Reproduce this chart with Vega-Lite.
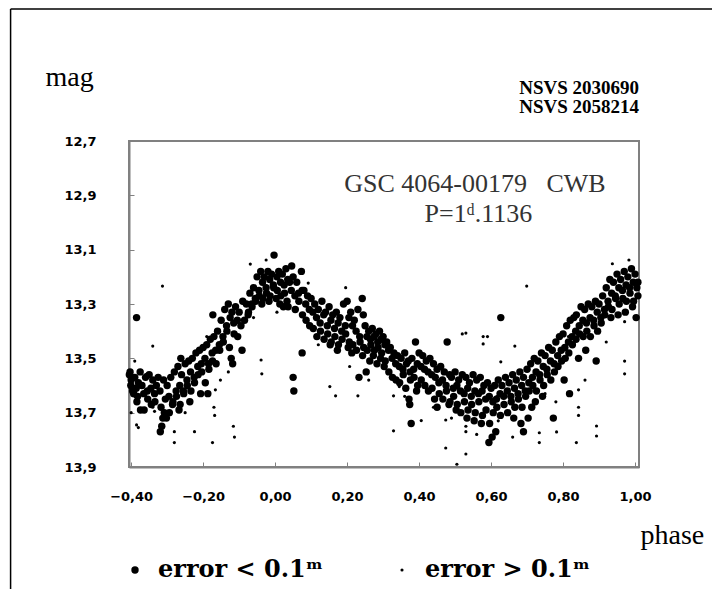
{
"$schema": "https://vega.github.io/schema/vega-lite/v6.json",
"width": 510, "height": 326,
"autosize": {"type": "none"},
"padding": {"left": 129, "top": 141, "right": 73, "bottom": 122},
"background": "white",
"config": {"view": {"stroke": "#808080", "strokeWidth": 2}, "font": "Liberation Serif"},
"datasets": {"pts": [
{"phase":-0.405,"mag":13.56,"err":"lt"},{"phase":-0.401,"mag":13.60,"err":"lt"},
{"phase":-0.40,"mag":13.58,"err":"lt"},{"phase":-0.396,"mag":13.62,"err":"lt"},{"phase":-0.403,"mag":13.55,"err":"lt"},
{"phase":-0.393,"mag":13.63,"err":"lt"},
{"phase":-0.39,"mag":13.57,"err":"lt"},{"phase":-0.386,"mag":13.61,"err":"lt"},
{"phase":-0.385,"mag":13.35,"err":"lt"},{"phase":-0.382,"mag":13.64,"err":"lt"},
{"phase":-0.38,"mag":13.59,"err":"lt"},{"phase":-0.375,"mag":13.55,"err":"lt"},{"phase":-0.384,"mag":13.66,"err":"lt"},
{"phase":-0.37,"mag":13.60,"err":"lt"},{"phase":-0.365,"mag":13.63,"err":"lt"},{"phase":-0.374,"mag":13.69,"err":"lt"},
{"phase":-0.36,"mag":13.57,"err":"lt"},{"phase":-0.355,"mag":13.62,"err":"lt"},{"phase":-0.364,"mag":13.69,"err":"lt"},
{"phase":-0.35,"mag":13.56,"err":"lt"},{"phase":-0.345,"mag":13.61,"err":"lt"},{"phase":-0.354,"mag":13.65,"err":"lt"},
{"phase":-0.34,"mag":13.58,"err":"lt"},{"phase":-0.335,"mag":13.63,"err":"lt"},{"phase":-0.344,"mag":13.67,"err":"lt"},
{"phase":-0.33,"mag":13.60,"err":"lt"},{"phase":-0.325,"mag":13.57,"err":"lt"},{"phase":-0.334,"mag":13.66,"err":"lt"},
{"phase":-0.32,"mag":13.62,"err":"lt"},{"phase":-0.317,"mag":13.68,"err":"lt"},{"phase":-0.319,"mag":13.77,"err":"lt"},
{"phase":-0.315,"mag":13.75,"err":"lt"},{"phase":-0.312,"mag":13.72,"err":"lt"},
{"phase":-0.31,"mag":13.58,"err":"lt"},{"phase":-0.305,"mag":13.65,"err":"lt"},{"phase":-0.308,"mag":13.70,"err":"lt"},
{"phase":-0.30,"mag":13.60,"err":"lt"},{"phase":-0.295,"mag":13.64,"err":"lt"},{"phase":-0.302,"mag":13.72,"err":"lt"},
{"phase":-0.29,"mag":13.57,"err":"lt"},{"phase":-0.285,"mag":13.67,"err":"lt"},{"phase":-0.294,"mag":13.70,"err":"lt"},
{"phase":-0.28,"mag":13.55,"err":"lt"},{"phase":-0.275,"mag":13.62,"err":"lt"},{"phase":-0.284,"mag":13.66,"err":"lt"},
{"phase":-0.27,"mag":13.53,"err":"lt"},{"phase":-0.265,"mag":13.60,"err":"lt"},{"phase":-0.274,"mag":13.64,"err":"lt"},{"phase":-0.267,"mag":13.69,"err":"lt"},
{"phase":-0.262,"mag":13.50,"err":"lt"},
{"phase":-0.26,"mag":13.56,"err":"lt"},{"phase":-0.255,"mag":13.62,"err":"lt"},{"phase":-0.264,"mag":13.67,"err":"lt"},
{"phase":-0.25,"mag":13.52,"err":"lt"},{"phase":-0.245,"mag":13.58,"err":"lt"},{"phase":-0.254,"mag":13.63,"err":"lt"},
{"phase":-0.24,"mag":13.51,"err":"lt"},{"phase":-0.235,"mag":13.55,"err":"lt"},{"phase":-0.244,"mag":13.60,"err":"lt"},{"phase":-0.237,"mag":13.66,"err":"lt"},
{"phase":-0.23,"mag":13.50,"err":"lt"},{"phase":-0.225,"mag":13.57,"err":"lt"},{"phase":-0.234,"mag":13.62,"err":"lt"},
{"phase":-0.22,"mag":13.48,"err":"lt"},{"phase":-0.215,"mag":13.53,"err":"lt"},{"phase":-0.224,"mag":13.59,"err":"lt"},
{"phase":-0.21,"mag":13.47,"err":"lt"},{"phase":-0.205,"mag":13.52,"err":"lt"},{"phase":-0.214,"mag":13.56,"err":"lt"},{"phase":-0.207,"mag":13.63,"err":"lt"},
{"phase":-0.20,"mag":13.46,"err":"lt"},{"phase":-0.195,"mag":13.50,"err":"lt"},{"phase":-0.204,"mag":13.55,"err":"lt"},
{"phase":-0.19,"mag":13.45,"err":"lt"},{"phase":-0.185,"mag":13.52,"err":"lt"},{"phase":-0.194,"mag":13.59,"err":"lt"},{"phase":-0.187,"mag":13.63,"err":"lt"},
{"phase":-0.18,"mag":13.43,"err":"lt"},{"phase":-0.175,"mag":13.48,"err":"lt"},{"phase":-0.184,"mag":13.54,"err":"lt"},
{"phase":-0.173,"mag":13.34,"err":"lt"},
{"phase":-0.17,"mag":13.42,"err":"lt"},{"phase":-0.165,"mag":13.47,"err":"lt"},{"phase":-0.174,"mag":13.51,"err":"lt"},
{"phase":-0.16,"mag":13.40,"err":"lt"},{"phase":-0.155,"mag":13.45,"err":"lt"},{"phase":-0.164,"mag":13.52,"err":"lt"},
{"phase":-0.15,"mag":13.36,"err":"lt"},{"phase":-0.145,"mag":13.42,"err":"lt"},{"phase":-0.154,"mag":13.47,"err":"lt"},
{"phase":-0.14,"mag":13.32,"err":"lt"},{"phase":-0.135,"mag":13.38,"err":"lt"},{"phase":-0.144,"mag":13.44,"err":"lt"},
{"phase":-0.13,"mag":13.30,"err":"lt"},{"phase":-0.125,"mag":13.35,"err":"lt"},{"phase":-0.134,"mag":13.40,"err":"lt"},{"phase":-0.127,"mag":13.46,"err":"lt"},
{"phase":-0.12,"mag":13.33,"err":"lt"},{"phase":-0.115,"mag":13.37,"err":"lt"},{"phase":-0.122,"mag":13.50,"err":"lt"},{"phase":-0.118,"mag":13.52,"err":"lt"},
{"phase":-0.11,"mag":13.31,"err":"lt"},{"phase":-0.105,"mag":13.36,"err":"lt"},{"phase":-0.114,"mag":13.41,"err":"lt"},
{"phase":-0.10,"mag":13.33,"err":"lt"},{"phase":-0.095,"mag":13.38,"err":"lt"},{"phase":-0.104,"mag":13.42,"err":"lt"},
{"phase":-0.09,"mag":13.29,"err":"lt"},{"phase":-0.085,"mag":13.36,"err":"lt"},{"phase":-0.092,"mag":13.47,"err":"lt"},
{"phase":-0.08,"mag":13.30,"err":"lt"},{"phase":-0.075,"mag":13.34,"err":"lt"},
{"phase":-0.07,"mag":13.26,"err":"lt"},{"phase":-0.065,"mag":13.30,"err":"lt"},{"phase":-0.074,"mag":13.33,"err":"lt"},
{"phase":-0.06,"mag":13.24,"err":"lt"},{"phase":-0.055,"mag":13.28,"err":"lt"},{"phase":-0.064,"mag":13.31,"err":"lt"},
{"phase":-0.05,"mag":13.20,"err":"lt"},{"phase":-0.045,"mag":13.25,"err":"lt"},{"phase":-0.054,"mag":13.29,"err":"lt"},
{"phase":-0.04,"mag":13.18,"err":"lt"},{"phase":-0.035,"mag":13.22,"err":"lt"},{"phase":-0.044,"mag":13.27,"err":"lt"},{"phase":-0.037,"mag":13.30,"err":"lt"},
{"phase":-0.03,"mag":13.20,"err":"lt"},{"phase":-0.025,"mag":13.24,"err":"lt"},{"phase":-0.034,"mag":13.28,"err":"lt"},
{"phase":-0.02,"mag":13.18,"err":"lt"},{"phase":-0.015,"mag":13.21,"err":"lt"},{"phase":-0.024,"mag":13.26,"err":"lt"},{"phase":-0.017,"mag":13.29,"err":"lt"},
{"phase":-0.01,"mag":13.19,"err":"lt"},{"phase":-0.005,"mag":13.23,"err":"lt"},{"phase":-0.014,"mag":13.27,"err":"lt"},
{"phase":-0.003,"mag":13.12,"err":"lt"},{"phase":0.005,"mag":13.20,"err":"lt"},{"phase":-0.004,"mag":13.24,"err":"lt"},{"phase":0.003,"mag":13.28,"err":"lt"},
{"phase":0.01,"mag":13.18,"err":"lt"},{"phase":0.015,"mag":13.22,"err":"lt"},{"phase":0.006,"mag":13.25,"err":"lt"},{"phase":0.013,"mag":13.30,"err":"lt"},
{"phase":0.02,"mag":13.19,"err":"lt"},{"phase":0.025,"mag":13.23,"err":"lt"},{"phase":0.016,"mag":13.27,"err":"lt"},{"phase":0.023,"mag":13.31,"err":"lt"},
{"phase":0.03,"mag":13.17,"err":"lt"},{"phase":0.035,"mag":13.21,"err":"lt"},{"phase":0.026,"mag":13.26,"err":"lt"},{"phase":0.033,"mag":13.29,"err":"lt"},
{"phase":0.04,"mag":13.22,"err":"lt"},{"phase":0.045,"mag":13.25,"err":"lt"},{"phase":0.036,"mag":13.31,"err":"lt"},
{"phase":0.046,"mag":13.16,"err":"lt"},
{"phase":0.05,"mag":13.20,"err":"lt"},{"phase":0.055,"mag":13.27,"err":"lt"},{"phase":0.05,"mag":13.57,"err":"lt"},{"phase":0.052,"mag":13.62,"err":"lt"},
{"phase":0.06,"mag":13.22,"err":"lt"},{"phase":0.065,"mag":13.26,"err":"lt"},{"phase":0.056,"mag":13.32,"err":"lt"},
{"phase":0.073,"mag":13.18,"err":"lt"},{"phase":0.075,"mag":13.25,"err":"lt"},{"phase":0.066,"mag":13.29,"err":"lt"},{"phase":0.075,"mag":13.48,"err":"lt"},
{"phase":0.08,"mag":13.25,"err":"lt"},{"phase":0.085,"mag":13.30,"err":"lt"},{"phase":0.076,"mag":13.34,"err":"lt"},
{"phase":0.09,"mag":13.27,"err":"lt"},{"phase":0.095,"mag":13.32,"err":"lt"},{"phase":0.086,"mag":13.36,"err":"lt"},
{"phase":0.10,"mag":13.28,"err":"lt"},{"phase":0.105,"mag":13.33,"err":"lt"},{"phase":0.096,"mag":13.38,"err":"lt"},
{"phase":0.11,"mag":13.30,"err":"lt"},{"phase":0.115,"mag":13.35,"err":"lt"},{"phase":0.106,"mag":13.39,"err":"lt"},
{"phase":0.12,"mag":13.32,"err":"lt"},{"phase":0.125,"mag":13.37,"err":"lt"},{"phase":0.116,"mag":13.42,"err":"lt"},
{"phase":0.13,"mag":13.29,"err":"lt"},{"phase":0.135,"mag":13.34,"err":"lt"},{"phase":0.126,"mag":13.40,"err":"lt"},
{"phase":0.14,"mag":13.33,"err":"lt"},{"phase":0.145,"mag":13.38,"err":"lt"},{"phase":0.136,"mag":13.43,"err":"lt"},
{"phase":0.15,"mag":13.31,"err":"lt"},{"phase":0.155,"mag":13.36,"err":"lt"},{"phase":0.146,"mag":13.41,"err":"lt"},{"phase":0.153,"mag":13.45,"err":"lt"},
{"phase":0.16,"mag":13.34,"err":"lt"},{"phase":0.165,"mag":13.39,"err":"lt"},{"phase":0.156,"mag":13.44,"err":"lt"},
{"phase":0.17,"mag":13.33,"err":"lt"},{"phase":0.175,"mag":13.37,"err":"lt"},{"phase":0.166,"mag":13.42,"err":"lt"},{"phase":0.173,"mag":13.47,"err":"lt"},
{"phase":0.18,"mag":13.35,"err":"lt"},{"phase":0.185,"mag":13.40,"err":"lt"},{"phase":0.176,"mag":13.45,"err":"lt"},
{"phase":0.19,"mag":13.30,"err":"lt"},{"phase":0.195,"mag":13.38,"err":"lt"},{"phase":0.186,"mag":13.43,"err":"lt"},
{"phase":0.20,"mag":13.29,"err":"lt"},{"phase":0.205,"mag":13.35,"err":"lt"},{"phase":0.196,"mag":13.41,"err":"lt"},{"phase":0.203,"mag":13.46,"err":"lt"},
{"phase":0.21,"mag":13.33,"err":"lt"},{"phase":0.215,"mag":13.38,"err":"lt"},{"phase":0.206,"mag":13.44,"err":"lt"},{"phase":0.213,"mag":13.48,"err":"lt"},
{"phase":0.22,"mag":13.36,"err":"lt"},{"phase":0.225,"mag":13.40,"err":"lt"},{"phase":0.216,"mag":13.45,"err":"lt"},
{"phase":0.23,"mag":13.32,"err":"lt"},{"phase":0.235,"mag":13.42,"err":"lt"},{"phase":0.226,"mag":13.47,"err":"lt"},{"phase":0.233,"mag":13.57,"err":"lt"},
{"phase":0.242,"mag":13.28,"err":"lt"},{"phase":0.245,"mag":13.34,"err":"lt"},{"phase":0.236,"mag":13.44,"err":"lt"},{"phase":0.243,"mag":13.49,"err":"lt"},
{"phase":0.25,"mag":13.38,"err":"lt"},{"phase":0.255,"mag":13.42,"err":"lt"},{"phase":0.246,"mag":13.46,"err":"lt"},{"phase":0.253,"mag":13.55,"err":"lt"},
{"phase":0.26,"mag":13.40,"err":"lt"},{"phase":0.265,"mag":13.43,"err":"lt"},{"phase":0.256,"mag":13.47,"err":"lt"},{"phase":0.263,"mag":13.51,"err":"lt"},
{"phase":0.27,"mag":13.39,"err":"lt"},{"phase":0.275,"mag":13.42,"err":"lt"},{"phase":0.266,"mag":13.45,"err":"lt"},{"phase":0.273,"mag":13.49,"err":"lt"},
{"phase":0.28,"mag":13.41,"err":"lt"},{"phase":0.285,"mag":13.44,"err":"lt"},{"phase":0.276,"mag":13.47,"err":"lt"},{"phase":0.283,"mag":13.52,"err":"lt"},
{"phase":0.29,"mag":13.40,"err":"lt"},{"phase":0.295,"mag":13.43,"err":"lt"},{"phase":0.286,"mag":13.46,"err":"lt"},{"phase":0.293,"mag":13.50,"err":"lt"},
{"phase":0.30,"mag":13.42,"err":"lt"},{"phase":0.305,"mag":13.45,"err":"lt"},{"phase":0.296,"mag":13.48,"err":"lt"},{"phase":0.303,"mag":13.53,"err":"lt"},
{"phase":0.31,"mag":13.44,"err":"lt"},{"phase":0.315,"mag":13.47,"err":"lt"},{"phase":0.306,"mag":13.51,"err":"lt"},
{"phase":0.32,"mag":13.46,"err":"lt"},{"phase":0.325,"mag":13.50,"err":"lt"},{"phase":0.316,"mag":13.55,"err":"lt"},
{"phase":0.33,"mag":13.48,"err":"lt"},{"phase":0.335,"mag":13.52,"err":"lt"},{"phase":0.326,"mag":13.57,"err":"lt"},
{"phase":0.34,"mag":13.49,"err":"lt"},{"phase":0.345,"mag":13.53,"err":"lt"},{"phase":0.336,"mag":13.58,"err":"lt"},
{"phase":0.35,"mag":13.50,"err":"lt"},{"phase":0.355,"mag":13.54,"err":"lt"},{"phase":0.346,"mag":13.59,"err":"lt"},
{"phase":0.36,"mag":13.48,"err":"lt"},{"phase":0.365,"mag":13.52,"err":"lt"},{"phase":0.356,"mag":13.56,"err":"lt"},{"phase":0.363,"mag":13.61,"err":"lt"},
{"phase":0.37,"mag":13.51,"err":"lt"},{"phase":0.375,"mag":13.55,"err":"lt"},{"phase":0.372,"mag":13.65,"err":"lt"},{"phase":0.374,"mag":13.67,"err":"lt"},
{"phase":0.38,"mag":13.50,"err":"lt"},{"phase":0.385,"mag":13.54,"err":"lt"},{"phase":0.376,"mag":13.58,"err":"lt"},{"phase":0.378,"mag":13.74,"err":"lt"},
{"phase":0.39,"mag":13.44,"err":"lt"},{"phase":0.395,"mag":13.52,"err":"lt"},{"phase":0.386,"mag":13.57,"err":"lt"},{"phase":0.393,"mag":13.62,"err":"lt"},
{"phase":0.40,"mag":13.48,"err":"lt"},{"phase":0.405,"mag":13.53,"err":"lt"},{"phase":0.396,"mag":13.60,"err":"lt"},
{"phase":0.41,"mag":13.49,"err":"lt"},{"phase":0.415,"mag":13.54,"err":"lt"},{"phase":0.406,"mag":13.58,"err":"lt"},
{"phase":0.42,"mag":13.51,"err":"lt"},{"phase":0.425,"mag":13.55,"err":"lt"},{"phase":0.416,"mag":13.60,"err":"lt"},
{"phase":0.43,"mag":13.50,"err":"lt"},{"phase":0.435,"mag":13.56,"err":"lt"},{"phase":0.426,"mag":13.62,"err":"lt"},
{"phase":0.44,"mag":13.52,"err":"lt"},{"phase":0.445,"mag":13.57,"err":"lt"},{"phase":0.436,"mag":13.61,"err":"lt"},{"phase":0.443,"mag":13.65,"err":"lt"},
{"phase":0.45,"mag":13.54,"err":"lt"},{"phase":0.455,"mag":13.59,"err":"lt"},{"phase":0.45,"mag":13.68,"err":"lt"},
{"phase":0.46,"mag":13.53,"err":"lt"},{"phase":0.465,"mag":13.58,"err":"lt"},{"phase":0.456,"mag":13.63,"err":"lt"},
{"phase":0.47,"mag":13.55,"err":"lt"},{"phase":0.475,"mag":13.60,"err":"lt"},{"phase":0.466,"mag":13.65,"err":"lt"},
{"phase":0.478,"mag":13.44,"err":"lt"},{"phase":0.485,"mag":13.56,"err":"lt"},{"phase":0.476,"mag":13.62,"err":"lt"},{"phase":0.483,"mag":13.67,"err":"lt"},
{"phase":0.49,"mag":13.57,"err":"lt"},{"phase":0.495,"mag":13.61,"err":"lt"},{"phase":0.486,"mag":13.66,"err":"lt"},
{"phase":0.50,"mag":13.55,"err":"lt"},{"phase":0.505,"mag":13.60,"err":"lt"},{"phase":0.496,"mag":13.64,"err":"lt"},{"phase":0.503,"mag":13.69,"err":"lt"},
{"phase":0.51,"mag":13.58,"err":"lt"},{"phase":0.515,"mag":13.62,"err":"lt"},{"phase":0.506,"mag":13.67,"err":"lt"},
{"phase":0.52,"mag":13.56,"err":"lt"},{"phase":0.525,"mag":13.63,"err":"lt"},{"phase":0.516,"mag":13.70,"err":"lt"},
{"phase":0.53,"mag":13.57,"err":"lt"},{"phase":0.535,"mag":13.61,"err":"lt"},{"phase":0.526,"mag":13.66,"err":"lt"},{"phase":0.533,"mag":13.72,"err":"lt"},
{"phase":0.54,"mag":13.59,"err":"lt"},{"phase":0.545,"mag":13.64,"err":"lt"},{"phase":0.536,"mag":13.69,"err":"lt"},
{"phase":0.55,"mag":13.56,"err":"lt"},{"phase":0.555,"mag":13.62,"err":"lt"},{"phase":0.546,"mag":13.67,"err":"lt"},{"phase":0.553,"mag":13.73,"err":"lt"},
{"phase":0.56,"mag":13.58,"err":"lt"},{"phase":0.565,"mag":13.63,"err":"lt"},{"phase":0.556,"mag":13.70,"err":"lt"},
{"phase":0.57,"mag":13.57,"err":"lt"},{"phase":0.575,"mag":13.62,"err":"lt"},{"phase":0.566,"mag":13.66,"err":"lt"},{"phase":0.573,"mag":13.74,"err":"lt"},
{"phase":0.58,"mag":13.60,"err":"lt"},{"phase":0.585,"mag":13.65,"err":"lt"},{"phase":0.576,"mag":13.71,"err":"lt"},
{"phase":0.59,"mag":13.59,"err":"lt"},{"phase":0.595,"mag":13.64,"err":"lt"},{"phase":0.586,"mag":13.69,"err":"lt"},{"phase":0.594,"mag":13.81,"err":"lt"},
{"phase":0.60,"mag":13.61,"err":"lt"},{"phase":0.605,"mag":13.66,"err":"lt"},{"phase":0.596,"mag":13.74,"err":"lt"},{"phase":0.603,"mag":13.79,"err":"lt"},
{"phase":0.61,"mag":13.60,"err":"lt"},{"phase":0.615,"mag":13.65,"err":"lt"},{"phase":0.606,"mag":13.70,"err":"lt"},{"phase":0.613,"mag":13.77,"err":"lt"},
{"phase":0.62,"mag":13.58,"err":"lt"},{"phase":0.625,"mag":13.63,"err":"lt"},{"phase":0.616,"mag":13.68,"err":"lt"},
{"phase":0.627,"mag":13.35,"err":"lt"},
{"phase":0.63,"mag":13.60,"err":"lt"},{"phase":0.635,"mag":13.64,"err":"lt"},{"phase":0.626,"mag":13.71,"err":"lt"},
{"phase":0.64,"mag":13.57,"err":"lt"},{"phase":0.645,"mag":13.62,"err":"lt"},{"phase":0.636,"mag":13.67,"err":"lt"},
{"phase":0.65,"mag":13.59,"err":"lt"},{"phase":0.655,"mag":13.64,"err":"lt"},{"phase":0.646,"mag":13.70,"err":"lt"},
{"phase":0.66,"mag":13.56,"err":"lt"},{"phase":0.665,"mag":13.61,"err":"lt"},{"phase":0.656,"mag":13.66,"err":"lt"},{"phase":0.663,"mag":13.72,"err":"lt"},
{"phase":0.67,"mag":13.58,"err":"lt"},{"phase":0.675,"mag":13.63,"err":"lt"},{"phase":0.666,"mag":13.68,"err":"lt"},
{"phase":0.68,"mag":13.55,"err":"lt"},{"phase":0.685,"mag":13.60,"err":"lt"},{"phase":0.676,"mag":13.65,"err":"lt"},{"phase":0.683,"mag":13.74,"err":"lt"},
{"phase":0.69,"mag":13.57,"err":"lt"},{"phase":0.695,"mag":13.62,"err":"lt"},{"phase":0.686,"mag":13.68,"err":"lt"},{"phase":0.69,"mag":13.77,"err":"lt"},
{"phase":0.70,"mag":13.54,"err":"lt"},{"phase":0.705,"mag":13.59,"err":"lt"},{"phase":0.696,"mag":13.64,"err":"lt"},{"phase":0.703,"mag":13.72,"err":"lt"},
{"phase":0.71,"mag":13.52,"err":"lt"},{"phase":0.715,"mag":13.57,"err":"lt"},{"phase":0.706,"mag":13.62,"err":"lt"},{"phase":0.713,"mag":13.68,"err":"lt"},
{"phase":0.72,"mag":13.50,"err":"lt"},{"phase":0.725,"mag":13.55,"err":"lt"},{"phase":0.716,"mag":13.60,"err":"lt"},{"phase":0.723,"mag":13.66,"err":"lt"},
{"phase":0.73,"mag":13.51,"err":"lt"},{"phase":0.735,"mag":13.56,"err":"lt"},{"phase":0.726,"mag":13.62,"err":"lt"},
{"phase":0.74,"mag":13.48,"err":"lt"},{"phase":0.745,"mag":13.53,"err":"lt"},{"phase":0.736,"mag":13.58,"err":"lt"},{"phase":0.743,"mag":13.64,"err":"lt"},
{"phase":0.75,"mag":13.49,"err":"lt"},{"phase":0.755,"mag":13.54,"err":"lt"},{"phase":0.746,"mag":13.60,"err":"lt"},
{"phase":0.76,"mag":13.46,"err":"lt"},{"phase":0.765,"mag":13.51,"err":"lt"},{"phase":0.756,"mag":13.56,"err":"lt"},
{"phase":0.77,"mag":13.47,"err":"lt"},{"phase":0.775,"mag":13.52,"err":"lt"},{"phase":0.766,"mag":13.58,"err":"lt"},{"phase":0.773,"mag":13.72,"err":"lt"},
{"phase":0.78,"mag":13.44,"err":"lt"},{"phase":0.785,"mag":13.49,"err":"lt"},{"phase":0.776,"mag":13.55,"err":"lt"},
{"phase":0.79,"mag":13.42,"err":"lt"},{"phase":0.795,"mag":13.47,"err":"lt"},{"phase":0.786,"mag":13.53,"err":"lt"},
{"phase":0.80,"mag":13.41,"err":"lt"},{"phase":0.805,"mag":13.46,"err":"lt"},{"phase":0.796,"mag":13.51,"err":"lt"},{"phase":0.803,"mag":13.58,"err":"lt"},
{"phase":0.81,"mag":13.38,"err":"lt"},{"phase":0.815,"mag":13.44,"err":"lt"},{"phase":0.806,"mag":13.50,"err":"lt"},
{"phase":0.82,"mag":13.36,"err":"lt"},{"phase":0.825,"mag":13.42,"err":"lt"},{"phase":0.816,"mag":13.48,"err":"lt"},{"phase":0.818,"mag":13.63,"err":"lt"},
{"phase":0.83,"mag":13.35,"err":"lt"},{"phase":0.835,"mag":13.40,"err":"lt"},{"phase":0.826,"mag":13.45,"err":"lt"},
{"phase":0.837,"mag":13.34,"err":"lt"},{"phase":0.845,"mag":13.38,"err":"lt"},{"phase":0.836,"mag":13.43,"err":"lt"},{"phase":0.843,"mag":13.50,"err":"lt"},
{"phase":0.85,"mag":13.31,"err":"lt"},{"phase":0.855,"mag":13.36,"err":"lt"},{"phase":0.846,"mag":13.41,"err":"lt"},
{"phase":0.86,"mag":13.32,"err":"lt"},{"phase":0.865,"mag":13.37,"err":"lt"},{"phase":0.856,"mag":13.42,"err":"lt"},{"phase":0.863,"mag":13.47,"err":"lt"},
{"phase":0.87,"mag":13.30,"err":"lt"},{"phase":0.875,"mag":13.35,"err":"lt"},{"phase":0.866,"mag":13.40,"err":"lt"},
{"phase":0.88,"mag":13.31,"err":"lt"},{"phase":0.885,"mag":13.36,"err":"lt"},{"phase":0.876,"mag":13.42,"err":"lt"},
{"phase":0.89,"mag":13.29,"err":"lt"},{"phase":0.895,"mag":13.33,"err":"lt"},{"phase":0.886,"mag":13.38,"err":"lt"},{"phase":0.892,"mag":13.51,"err":"lt"},
{"phase":0.90,"mag":13.30,"err":"lt"},{"phase":0.905,"mag":13.35,"err":"lt"},{"phase":0.896,"mag":13.40,"err":"lt"},
{"phase":0.91,"mag":13.27,"err":"lt"},{"phase":0.915,"mag":13.32,"err":"lt"},{"phase":0.906,"mag":13.37,"err":"lt"},
{"phase":0.92,"mag":13.24,"err":"lt"},{"phase":0.925,"mag":13.29,"err":"lt"},{"phase":0.916,"mag":13.34,"err":"lt"},
{"phase":0.93,"mag":13.21,"err":"lt"},{"phase":0.935,"mag":13.26,"err":"lt"},{"phase":0.926,"mag":13.31,"err":"lt"},{"phase":0.933,"mag":13.35,"err":"lt"},
{"phase":0.94,"mag":13.22,"err":"lt"},{"phase":0.945,"mag":13.27,"err":"lt"},{"phase":0.936,"mag":13.32,"err":"lt"},
{"phase":0.95,"mag":13.19,"err":"lt"},{"phase":0.955,"mag":13.24,"err":"lt"},{"phase":0.946,"mag":13.28,"err":"lt"},{"phase":0.953,"mag":13.34,"err":"lt"},
{"phase":0.96,"mag":13.21,"err":"lt"},{"phase":0.965,"mag":13.25,"err":"lt"},{"phase":0.956,"mag":13.30,"err":"lt"},
{"phase":0.97,"mag":13.18,"err":"lt"},{"phase":0.975,"mag":13.23,"err":"lt"},{"phase":0.966,"mag":13.28,"err":"lt"},{"phase":0.973,"mag":13.33,"err":"lt"},
{"phase":0.98,"mag":13.20,"err":"lt"},{"phase":0.985,"mag":13.24,"err":"lt"},{"phase":0.976,"mag":13.29,"err":"lt"},
{"phase":0.99,"mag":13.17,"err":"lt"},{"phase":0.995,"mag":13.22,"err":"lt"},{"phase":0.986,"mag":13.26,"err":"lt"},{"phase":0.993,"mag":13.31,"err":"lt"},
{"phase":1.00,"mag":13.19,"err":"lt"},{"phase":1.005,"mag":13.24,"err":"lt"},{"phase":0.996,"mag":13.29,"err":"lt"},{"phase":1.003,"mag":13.35,"err":"lt"},
{"phase":1.008,"mag":13.22,"err":"lt"},{"phase":1.008,"mag":13.27,"err":"lt"},
{"phase":-0.40,"mag":13.70,"err":"gt"},{"phase":-0.39,"mag":13.64,"err":"gt"},{"phase":-0.39,"mag":13.51,"err":"gt"},{"phase":-0.385,"mag":13.745,"err":"gt"},{"phase":-0.38,"mag":13.755,"err":"gt"},
{"phase":-0.34,"mag":13.455,"err":"gt"},{"phase":-0.34,"mag":13.68,"err":"gt"},{"phase":-0.335,"mag":13.695,"err":"gt"},{"phase":-0.313,"mag":13.234,"err":"gt"},
{"phase":-0.28,"mag":13.77,"err":"gt"},{"phase":-0.28,"mag":13.81,"err":"gt"},{"phase":-0.224,"mag":13.77,"err":"gt"},{"phase":-0.19,"mag":13.42,"err":"gt"},
{"phase":-0.174,"mag":13.81,"err":"gt"},{"phase":-0.17,"mag":13.68,"err":"gt"},{"phase":-0.168,"mag":13.71,"err":"gt"},{"phase":-0.166,"mag":13.616,"err":"gt"},
{"phase":-0.152,"mag":13.58,"err":"gt"},{"phase":-0.116,"mag":13.75,"err":"gt"},{"phase":-0.113,"mag":13.79,"err":"gt"},{"phase":-0.069,"mag":13.153,"err":"gt"},
{"phase":-0.039,"mag":13.506,"err":"gt"},{"phase":-0.037,"mag":13.557,"err":"gt"},{"phase":-0.025,"mag":13.138,"err":"gt"},{"phase":0.092,"mag":13.223,"err":"gt"},
{"phase":0.17,"mag":13.466,"err":"gt"},{"phase":0.196,"mag":13.24,"err":"gt"},{"phase":0.205,"mag":13.29,"err":"gt"},{"phase":0.207,"mag":13.53,"err":"gt"},
{"phase":0.152,"mag":13.604,"err":"gt"},{"phase":0.168,"mag":13.638,"err":"gt"},{"phase":0.23,"mag":13.638,"err":"gt"},{"phase":0.329,"mag":13.638,"err":"gt"},
{"phase":0.329,"mag":13.767,"err":"gt"},{"phase":0.345,"mag":13.604,"err":"gt"},{"phase":0.406,"mag":13.729,"err":"gt"},{"phase":0.474,"mag":13.83,"err":"gt"},
{"phase":0.474,"mag":13.727,"err":"gt"},{"phase":0.49,"mag":13.72,"err":"gt"},{"phase":0.52,"mag":13.41,"err":"gt"},{"phase":0.53,"mag":13.75,"err":"gt"},
{"phase":0.53,"mag":13.77,"err":"gt"},{"phase":0.53,"mag":13.852,"err":"gt"},{"phase":0.53,"mag":13.407,"err":"gt"},{"phase":0.505,"mag":13.89,"err":"gt"},
{"phase":0.578,"mag":13.42,"err":"gt"},{"phase":0.578,"mag":13.447,"err":"gt"},{"phase":0.59,"mag":13.42,"err":"gt"},{"phase":0.616,"mag":13.641,"err":"gt"},
{"phase":0.627,"mag":13.513,"err":"gt"},{"phase":0.666,"mag":13.455,"err":"gt"},{"phase":0.699,"mag":13.234,"err":"gt"},{"phase":0.734,"mag":13.774,"err":"gt"},
{"phase":0.734,"mag":13.81,"err":"gt"},{"phase":0.782,"mag":13.771,"err":"gt"},{"phase":0.815,"mag":13.42,"err":"gt"},{"phase":0.837,"mag":13.81,"err":"gt"},
{"phase":0.843,"mag":13.616,"err":"gt"},{"phase":0.843,"mag":13.68,"err":"gt"},{"phase":0.843,"mag":13.71,"err":"gt"},{"phase":0.861,"mag":13.58,"err":"gt"},
{"phase":0.893,"mag":13.749,"err":"gt"},{"phase":0.893,"mag":13.786,"err":"gt"},{"phase":0.937,"mag":13.152,"err":"gt"},{"phase":0.971,"mag":13.365,"err":"gt"},
{"phase":0.971,"mag":13.51,"err":"gt"},{"phase":0.971,"mag":13.557,"err":"gt"},{"phase":0.983,"mag":13.138,"err":"gt"},
{"phase":-0.36,"mag":13.56,"err":"gt"},{"phase":-0.25,"mag":13.70,"err":"gt"},{"phase":-0.13,"mag":13.55,"err":"gt"},{"phase":0.12,"mag":13.45,"err":"gt"},
{"phase":0.26,"mag":13.58,"err":"gt"},{"phase":0.36,"mag":13.64,"err":"gt"},{"phase":0.44,"mag":13.68,"err":"gt"},{"phase":0.56,"mag":13.78,"err":"gt"},
{"phase":0.62,"mag":13.73,"err":"gt"},{"phase":0.66,"mag":13.79,"err":"gt"},{"phase":0.75,"mag":13.63,"err":"gt"},{"phase":0.78,"mag":13.66,"err":"gt"},
{"phase":0.92,"mag":13.44,"err":"gt"},{"phase":0.005,"mag":13.33,"err":"gt"},{"phase":-0.06,"mag":13.35,"err":"gt"}
]},
"layer": [
{
 "data": {"name": "pts"},
 "mark": {"type": "circle", "color": "black", "opacity": 1},
 "encoding": {
  "x": {"field": "phase", "type": "quantitative",
        "scale": {"domain": [-0.406, 1.011], "nice": false, "zero": false},
        "axis": {"title": "phase", "values": [-0.4,-0.3,-0.2,-0.1,0,0.1,0.2,0.3,0.4,0.5,0.6,0.7,0.8,0.9,1.0],
                 "labelExpr": "abs(round(datum.value*10)) % 2 == 0 ? replace(format(datum.value, '.2f'), '.', ',') : ''",
                 "grid": false, "tickSize": -5, "tickColor": "#808080", "domainColor": "#808080", "domainWidth": 2,
                 "labelFont": "DejaVu Sans", "labelFontWeight": "bold", "labelFontSize": 13, "labelColor": "black", "labelPadding": 28,
                 "titleFont": "Liberation Serif", "titleFontSize": 28, "titleFontWeight": "normal", "titleColor": "black",
                 "titleAlign": "left", "titleBaseline": "alphabetic", "titleX": 511, "titleY": 76}},
  "y": {"field": "mag", "type": "quantitative",
        "scale": {"domain": [12.7, 13.9], "nice": false, "zero": false, "reverse": true},
        "axis": {"title": "mag", "values": [12.7,12.8,12.9,13.0,13.1,13.2,13.3,13.4,13.5,13.6,13.7,13.8,13.9],
                 "labelExpr": "round(datum.value*10) % 2 == 1 ? replace(format(datum.value, '.1f'), '.', ',') : ''",
                 "grid": false, "tickSize": -5, "tickColor": "#808080", "domainColor": "#808080", "domainWidth": 2,
                 "labelFont": "DejaVu Sans", "labelFontWeight": "bold", "labelFontSize": 13, "labelColor": "black", "labelPadding": 38,
                 "titleFont": "Liberation Serif", "titleFontSize": 28, "titleFontWeight": "normal", "titleColor": "black",
                 "titleAngle": 0, "titleAlign": "left", "titleBaseline": "alphabetic", "titleX": -84, "titleY": -56}},
  "size": {"field": "err", "type": "nominal",
           "scale": {"domain": ["lt", "gt"], "range": [55, 10]},
           "legend": {"orient": "none", "legendX": -6, "legendY": 417, "direction": "horizontal", "title": null,
                      "labelExpr": "datum.label == 'lt' ? 'error < 0.1ᵐ' : 'error > 0.1ᵐ'",
                      "labelFont": "DejaVu Serif", "labelFontSize": 24, "labelFontWeight": "bold", "labelColor": "black", "labelLimit": 300,
                      "symbolFillColor": "black", "symbolStrokeWidth": 0, "symbolType": "circle", "columnPadding": 66, "labelOffset": 11}}
 }
},
{
 "data": {"values": [{}]},
 "mark": {"type": "text", "text": "GSC 4064-00179\u00a0\u00a0\u00a0CWB", "font": "Liberation Serif", "fontSize": 26, "color": "#333333", "align": "center", "baseline": "middle"},
 "encoding": {"x": {"datum": 0.555, "type": "quantitative"}, "y": {"datum": 12.86, "type": "quantitative"}}
},
{
 "data": {"values": [{}]},
 "mark": {"type": "text", "text": "P=1ᵈ.1136", "font": "Liberation Serif", "fontSize": 26, "color": "#333333", "align": "center", "baseline": "middle"},
 "encoding": {"x": {"datum": 0.565, "type": "quantitative"}, "y": {"datum": 12.97, "type": "quantitative"}}
},
{
 "data": {"values": [{}]},
 "mark": {"type": "text", "text": "NSVS 2030690", "font": "Liberation Serif", "fontSize": 19, "fontWeight": "bold", "color": "black", "align": "right", "baseline": "alphabetic"},
 "encoding": {"x": {"datum": 1.011, "type": "quantitative"}, "y": {"datum": 12.527, "type": "quantitative"}}
},
{
 "data": {"values": [{}]},
 "mark": {"type": "text", "text": "NSVS 2058214", "font": "Liberation Serif", "fontSize": 19, "fontWeight": "bold", "color": "black", "align": "right", "baseline": "alphabetic"},
 "encoding": {"x": {"datum": 1.011, "type": "quantitative"}, "y": {"datum": 12.597, "type": "quantitative"}}
},
{
 "data": {"values": [{}]},
 "mark": {"type": "rule", "color": "black", "strokeWidth": 1.5},
 "encoding": {"x": {"datum": -0.735, "type": "quantitative"}, "y": {"datum": 12.214, "type": "quantitative"}, "y2": {"datum": 14.6}}
},
{
 "data": {"values": [{}]},
 "mark": {"type": "rule", "color": "black", "strokeWidth": 1.5},
 "encoding": {"x": {"datum": -0.735, "type": "quantitative"}, "x2": {"datum": 1.3}, "y": {"datum": 12.214, "type": "quantitative"}}
}
]
}
